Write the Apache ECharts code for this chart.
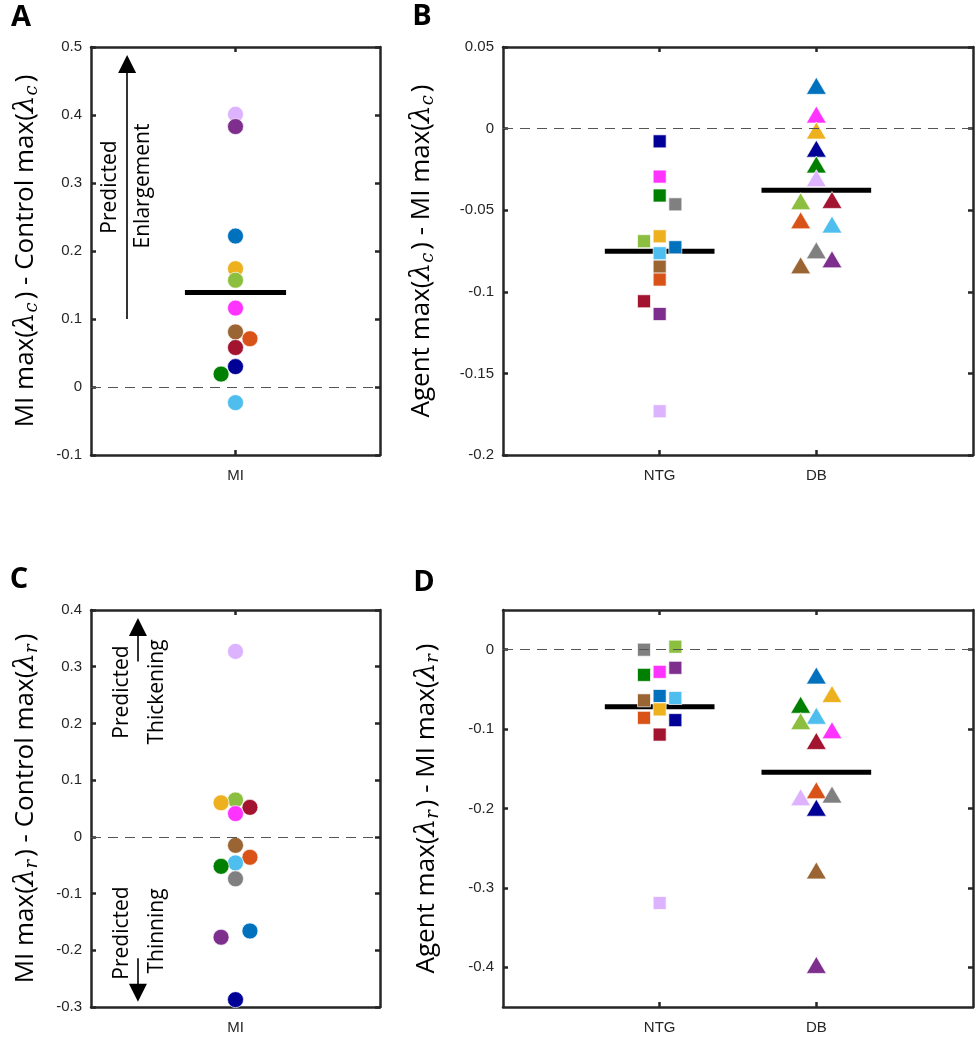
<!DOCTYPE html>
<html><head><meta charset="utf-8">
<script src="https://cdn.jsdelivr.net/npm/echarts@6/dist/echarts.min.js"></script>
<style>html,body{margin:0;padding:0;background:#fff}#c{width:979px;height:1050px}</style>
</head><body><div id="c"></div><script>
const palette = {
  navy:'#000096', magenta:'#FF33FF', green:'#007F00', gray:'#808080', yellow:'#EDB120',
  lime:'#8CBF40', blue:'#0072BD', sky:'#4DBEEE', brown:'#9A6532', orange:'#D95319',
  crimson:'#A2142F', purple:'#7E2F8E', lavender:'#DDB3FF'
};

// ---- Panel A: MI max(λc) - Control max(λc)
const catsA = ['MI'];
const colorsA = ['lavender','purple','blue','yellow','lime','magenta','brown','orange','crimson','navy','green','sky'];
const valuesA = [0.401,0.383,0.222,0.174,0.157,0.116,0.081,0.071,0.058,0.030,0.019,-0.023];
const jitterA = [0,0,0,0,0,0,0,0.1,0,0,-0.1,0];
const meanA = [0.139];
const yTicksA = [-0.1,0,0.1,0.2,0.3,0.4,0.5];

// ---- Panel B: Agent max(λc) - MI max(λc)
const catsB = ['NTG','DB'];
const colorsB_NTG = ['navy','magenta','green','gray','yellow','lime','blue','sky','brown','orange','crimson','purple','lavender'];
const valuesB_NTG = [-0.0078,-0.0294,-0.041,-0.0464,-0.066,-0.069,-0.0727,-0.0764,-0.0846,-0.0925,-0.1058,-0.1136,-0.1732];
const jitterB_NTG = [0,0,0,0.1,0,-0.1,0.1,0,0,0,-0.1,0,0];
const colorsB_DB = ['blue','magenta','yellow','navy','green','lavender','lime','crimson','orange','sky','gray','purple','brown'];
const valuesB_DB = [0.0262,0.0086,-0.0012,-0.0123,-0.022,-0.0304,-0.0445,-0.0437,-0.0562,-0.0588,-0.0746,-0.0801,-0.0838];
const jitterB_DB = [0,0,0,0,0,0,-0.1,0.1,-0.1,0.1,0,0.1,-0.1];
const meanB = [-0.0752,-0.0378];
const yTicksB = [-0.2,-0.15,-0.1,-0.05,0,0.05];

// ---- Panel C: MI max(λr) - Control max(λr)
const catsC = ['MI'];
const colorsC = ['lavender','lime','yellow','crimson','magenta','brown','orange','sky','green','gray','blue','purple','navy'];
const valuesC = [0.327,0.065,0.060,0.052,0.041,-0.015,-0.036,-0.046,-0.052,-0.074,-0.166,-0.177,-0.287];
const jitterC = [0,0,-0.1,0.1,0,0,0.1,0,-0.1,0,0.1,-0.1,0];
const yTicksC = [-0.3,-0.2,-0.1,0,0.1,0.2,0.3,0.4];

// ---- Panel D: Agent max(λr) - MI max(λr)
const catsD = ['NTG','DB'];
const colorsD_NTG = ['gray','lime','purple','magenta','green','blue','sky','brown','yellow','orange','navy','crimson','lavender'];
const valuesD_NTG = [0.0,0.0038,-0.0228,-0.0279,-0.0317,-0.0583,-0.0608,-0.0638,-0.0752,-0.0858,-0.0887,-0.1069,-0.319];
const jitterD_NTG = [-0.1,0.1,0.1,0,-0.1,0,0.1,-0.1,0,-0.1,0.1,0,0];
const colorsD_DB = ['blue','yellow','green','sky','lime','magenta','crimson','orange','gray','lavender','navy','brown','purple'];
const valuesD_DB = [-0.0325,-0.0558,-0.0693,-0.0832,-0.090,-0.1014,-0.1149,-0.177,-0.1825,-0.1859,-0.199,-0.278,-0.397];
const jitterD_DB = [0,0.1,-0.1,0,-0.1,0.1,0,0,0.1,-0.1,0,0,0];
const meanD = [-0.0718,-0.1542];
const yTicksD = [-0.4,-0.3,-0.2,-0.1,0];

const AX = '#262626';
const tickFont = {fontFamily:'Liberation Sans, Arial', fontSize:15, color:AX};
const titleFont = 'Open Sans';

const grids = [
  {left:91, top:47, width:289, height:408},
  {left:503, top:47, width:470, height:408},
  {left:91, top:610, width:289, height:397},
  {left:503, top:610, width:470, height:397}
];

function axisName(sub, prefix, mid){
  const s = sub==='s'?'c':'r';
  return prefix + ' max({l|λ}{' + sub + '|' + s + '}) - ' + mid + ' max({l|λ}{' + sub + '|' + s + '})';
}
const nameRich = {
  l:{fontSize:28, fontStyle:'italic', fontFamily:'DejaVu Serif', color:'#000'},
  s:{fontSize:18, fontStyle:'italic', fontFamily:'DejaVu Serif', color:'#000', padding:[13,3,0,0]},
  t:{fontSize:18, fontStyle:'italic', fontFamily:'DejaVu Serif', color:'#000', padding:[13,3,0,0]}
};

const xAxes = [], yAxes = [];
function addAxes(gi, cats, yMin, yMax, yTicks, name, nameGap){
  const pos = cats.map((c,i)=>i+1);
  const common = {type:'value', gridIndex:gi, min:0, max:cats.length+1, splitLine:{show:false},
    axisLine:{show:true, onZero:false, lineStyle:{color:AX, width:2.5}}};
  xAxes.push(Object.assign({}, common, {position:'bottom',
    axisTick:{show:true, inside:true, length:5, customValues:pos, lineStyle:{color:AX, width:2.5}},
    axisLabel:Object.assign({show:true, margin:13, customValues:pos, formatter:v=>cats[Math.round(v)-1]||''}, tickFont)}));
  xAxes.push(Object.assign({}, common, {position:'top',
    axisTick:{show:true, inside:true, length:5, customValues:pos, lineStyle:{color:AX, width:2.5}},
    axisLabel:{show:false}}));
  const ycommon = {type:'value', gridIndex:gi, min:yMin, max:yMax, splitLine:{show:false},
    axisLine:{show:true, onZero:false, lineStyle:{color:AX, width:2.5}},
    axisTick:{show:true, inside:true, length:5, customValues:yTicks, lineStyle:{color:AX, width:2.5}}};
  yAxes.push(Object.assign({}, ycommon, {position:'left',
    axisLabel:Object.assign({show:true, margin:9, customValues:yTicks, formatter:v=>String(v)}, tickFont),
    name:name, nameLocation:'middle', nameRotate:90, nameGap:nameGap,
    nameTextStyle:{fontFamily:titleFont, fontSize:26, color:'#000', rich:nameRich}}));
  yAxes.push(Object.assign({}, ycommon, {position:'right', axisLabel:{show:false}}));
}
addAxes(0, catsA, -0.1, 0.5, yTicksA, axisName('s','MI','Control'), 50);
addAxes(1, catsB, -0.2, 0.05, yTicksB, axisName('s','Agent','MI'), 66);
addAxes(2, catsC, -0.3, 0.4, yTicksC, axisName('t','MI','Control'), 50);
addAxes(3, catsD, -0.45, 0.05, yTicksD, axisName('t','Agent','MI'), 61);

function pts(pos, vals, cols, jit){
  return vals.map((v,i)=>({value:[pos + jit[i], v], itemStyle:{color:palette[cols[i]]}}));
}
const zeroLine = {yAxis:0, lineStyle:{type:[10,7], color:'#555', width:1.2}};
function arrow(x, y0, y1){
  return [{coord:[x,y0], symbol:'none', lineStyle:{type:'solid', color:'#000', width:1.6}},
          {coord:[x,y1], symbol:'triangle', symbolSize:[18,18]}];
}
function markLine(extra){
  return {silent:true, symbol:['none','none'], label:{show:false}, animation:false,
    data:[zeroLine].concat(extra||[])};
}
function meanSeries(pi, cats, means){
  return means.map((m,i)=>({type:'line', xAxisIndex:pi*2, yAxisIndex:pi*2, z:1,
    data:[[i+1-0.35, m],[i+1+0.35, m]], symbol:'none', lineStyle:{color:'#000', width:5}, silent:true, animation:false}));
}
const markerStyle = {borderColor:'rgba(255,255,255,0.85)', borderWidth:0.8, opacity:1};
function scatter(pi, data, symbol, size, ml){
  const s = {type:'scatter', xAxisIndex:pi*2, yAxisIndex:pi*2, z:3, symbol:symbol, symbolSize:size,
    data:data, itemStyle:markerStyle, animation:false};
  if (ml) s.markLine = ml;
  return s;
}

const series = [];
series.push(scatter(0, pts(1, valuesA, colorsA, jitterA), 'circle', 16, markLine([arrow(0.25, 0.1, 0.475)])));
series.push(...meanSeries(0, catsA, meanA));
series.push(scatter(1, pts(1, valuesB_NTG, colorsB_NTG, jitterB_NTG), 'rect', 13, markLine()));
series.push(scatter(1, pts(2, valuesB_DB, colorsB_DB, jitterB_DB), 'triangle', [20,17]));
series.push(...meanSeries(1, catsB, meanB));
series.push(scatter(2, pts(1, valuesC, colorsC, jitterC), 'circle', 16,
  markLine([arrow(0.325, 0.309, 0.370), arrow(0.325, -0.214, -0.275)])));
series.push(scatter(3, pts(1, valuesD_NTG, colorsD_NTG, jitterD_NTG), 'rect', 13, markLine()));
series.push(scatter(3, pts(2, valuesD_DB, colorsD_DB, jitterD_DB), 'triangle', [20,17]));
series.push(...meanSeries(3, catsD, meanD));

function vtext(txt, x, y, size){
  return {type:'text', x:x, y:y, rotation:Math.PI/2, silent:true,
    style:{text:txt, fontFamily:titleFont, fontSize:size||21, fill:'#000', align:'center', verticalAlign:'middle'}};
}
function ptext(txt, x, y){
  return {type:'text', x:x, y:y, silent:true,
    style:{text:txt, fontFamily:titleFont, fontWeight:'bold', fontSize:29, fill:'#000', align:'center', verticalAlign:'middle'}};
}
const graphics = [
  ptext('A', 21, 18), ptext('B', 422, 17), ptext('C', 19, 580), ptext('D', 424, 583),
  vtext('Predicted', 110, 187), vtext('Enlargement', 143, 186),
  vtext('Predicted', 122, 692), vtext('Thickening', 157, 692),
  vtext('Predicted', 122, 933), vtext('Thinning', 157, 931)
];

const chart = echarts.init(document.getElementById('c'), null, {renderer:'canvas'});
chart.setOption({
  animation:false,
  backgroundColor:'#fff',
  grid:grids.map(g=>Object.assign({containLabel:false}, g)),
  xAxis:xAxes, yAxis:yAxes, series:series, graphic:graphics
});
</script></body></html>
